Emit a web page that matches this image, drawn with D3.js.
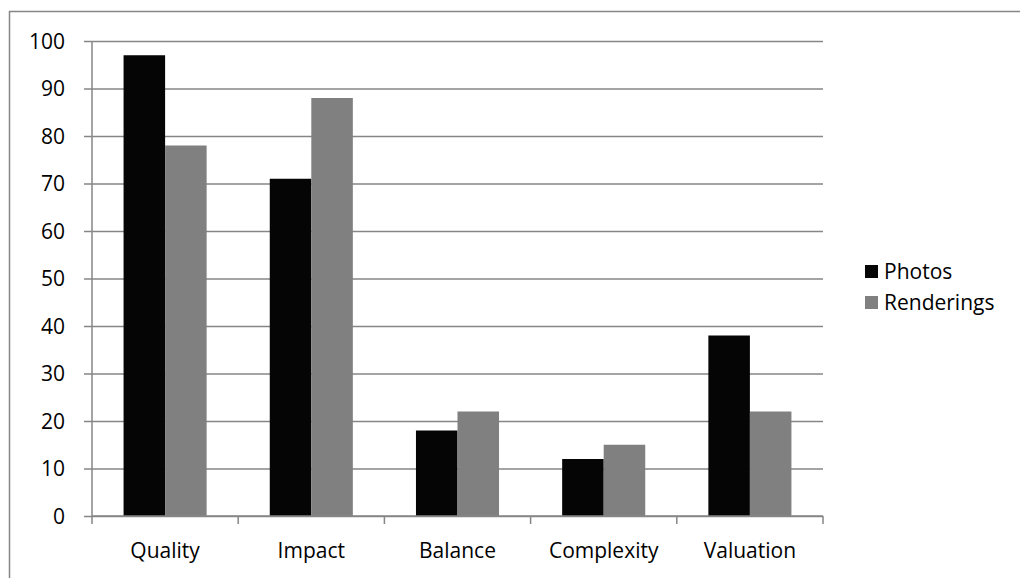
<!DOCTYPE html>
<html>
<head>
<meta charset="utf-8">
<script src="https://cdn.jsdelivr.net/npm/d3@7"></script>
<style>
  html, body { margin: 0; padding: 0; background: #fff; }
  svg { display: block; }
  text { font-family: "Open Sans", Lato, "Liberation Sans", sans-serif; fill: #000; }
</style>
</head>
<body>
<svg id="chart" width="1020" height="578"></svg>
<script>
// Scores by criterion for each image type
const categories = ["Quality", "Impact", "Balance", "Complexity", "Valuation"];
const seriesNames = ["Photos", "Renderings"];
const photos = [97, 71, 18, 12, 38];
const renderings = [78, 88, 22, 15, 22];
const yTicks = [0, 10, 20, 30, 40, 50, 60, 70, 80, 90, 100];
const colors = ["#050505", "#808080"];

const svg = d3.select("#chart");
const plot = { left: 92, right: 823, top: 41, bottom: 516 };
const fontSize = "21px";

// Frame around the chart area
svg.append("rect")
  .attr("x", 9.5).attr("y", 11.5)
  .attr("width", 1040).attr("height", 600)
  .attr("fill", "none").attr("stroke", "#868686").attr("stroke-width", 1.5);

const x = d3.scaleBand().domain(categories).range([plot.left, plot.right]).paddingInner(0).paddingOuter(0);
const y = d3.scaleLinear().domain([0, 100]).range([plot.bottom, plot.top]);
const inner = d3.scaleBand().domain(seriesNames).range([0, x.bandwidth()]).paddingInner(0).paddingOuter(0.76);

// Horizontal gridlines with left tick stubs
const yAxis = d3.axisLeft(y).tickValues(yTicks).tickSize(-(plot.right - plot.left)).tickPadding(27);
const gy = svg.append("g").attr("transform", `translate(${plot.left},0)`).call(yAxis);
gy.select(".domain").remove();
gy.selectAll(".tick line").attr("x1", -8).attr("stroke", "#868686").attr("stroke-width", 1.5);
gy.selectAll(".tick text").style("font-size", fontSize).attr("dy", "0.35em");

// Bars
const data = categories.map((c, i) => ({ cat: c, vals: [photos[i], renderings[i]] }));
const groups = svg.append("g").selectAll("g").data(data).join("g")
  .attr("transform", d => `translate(${x(d.cat)},0)`);
groups.selectAll("rect").data(d => d.vals.map((v, j) => ({ v, s: seriesNames[j], j })))
  .join("rect")
  .attr("x", d => inner(d.s))
  .attr("width", inner.bandwidth())
  .attr("y", d => y(d.v))
  .attr("height", d => y(0) - y(d.v))
  .attr("fill", d => colors[d.j]);

// Vertical axis line
svg.append("line")
  .attr("x1", plot.left).attr("x2", plot.left)
  .attr("y1", plot.top).attr("y2", plot.bottom)
  .attr("stroke", "#868686").attr("stroke-width", 1.5);

// Category axis with boundary ticks
const gx = svg.append("g").attr("transform", `translate(0,${plot.bottom})`);
gx.append("line").attr("x1", plot.left).attr("x2", plot.right)
  .attr("stroke", "#868686").attr("stroke-width", 1.5);
const bounds = categories.map(c => x(c)).concat([x(categories[categories.length - 1]) + x.bandwidth()]);
gx.selectAll("line.b").data(bounds).join("line").attr("class", "b")
  .attr("x1", d => d).attr("x2", d => d).attr("y1", 0).attr("y2", 8)
  .attr("stroke", "#868686").attr("stroke-width", 1.5);
gx.selectAll("text").data(categories).join("text")
  .attr("x", d => x(d) + x.bandwidth() / 2)
  .attr("y", 42)
  .attr("text-anchor", "middle")
  .style("font-size", fontSize)
  .text(d => d);

// Legend
const legend = svg.append("g").attr("transform", "translate(865,265)");
seriesNames.forEach((name, i) => {
  const g = legend.append("g").attr("transform", `translate(0,${i * 31})`);
  g.append("rect").attr("width", 13).attr("height", 13).attr("fill", colors[i]);
  g.append("text").attr("x", 19).attr("y", 6.5).attr("dy", "0.35em")
    .style("font-size", fontSize).text(name);
});
</script>
</body>
</html>
